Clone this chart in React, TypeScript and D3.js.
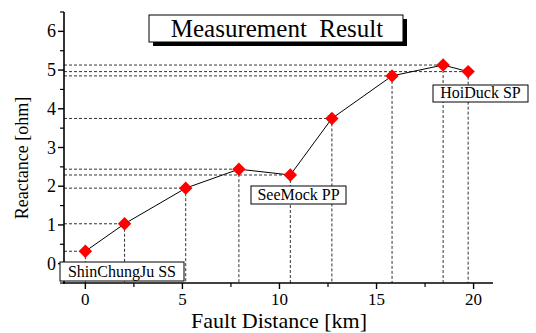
import React from "react";
import * as d3 from "d3";

const distance = [0, 2.02, 5.17, 7.91, 10.56, 12.7, 15.8, 18.43, 19.72];
const reactance = [0.32, 1.03, 1.95, 2.44, 2.29, 3.75, 4.85, 5.13, 4.96];
const xTicks = [0, 5, 10, 15, 20];
const yTicks = [0, 1, 2, 3, 4, 5, 6];
const xMinor = [2.5, 7.5, 12.5, 17.5];
const yMinor = [-0.5, 0.5, 1.5, 2.5, 3.5, 4.5, 5.5, 6.5];
const stations = ["ShinChungJu SS", "SeeMock PP", "HoiDuck SP"];

const font = "Liberation Serif, Times New Roman, Times, serif";

function App() {
  const width = 536;
  const height = 333;
  const x = d3.scaleLinear().domain([-1.1, 21]).range([64, 493]);
  const y = d3.scaleLinear().domain([-0.5, 6.5]).range([283, 12]);
  const points = distance.map((d, i) => [d, reactance[i]]);
  const line = d3
    .line()
    .x((d) => x(d[0]))
    .y((d) => y(d[1]));
  const diamond = d3.symbol(d3.symbolSquare, 90)();

  // annotation boxes [x, y, w, h]
  const boxes = [
    [60, 262, 124, 19],
    [251, 186, 95, 18],
    [433, 85, 95, 17],
  ];

  return (
    <svg
      width={width}
      height={height}
      style={{ position: "absolute", left: 0, top: 0, background: "#fff", fontFamily: font }}
    >
      {/* guide lines */}
      {points.map((p, i) => (
        <g key={i} stroke="#333" strokeWidth="1" strokeDasharray="3,2">
          <line x1={x(-1.1)} x2={x(p[0])} y1={y(p[1])} y2={y(p[1])} />
          <line x1={x(p[0])} x2={x(p[0])} y1={y(p[1])} y2={y(-0.5)} />
        </g>
      ))}

      <path d={line(points)} fill="none" stroke="#000" strokeWidth="1" />
      {points.map((p, i) => (
        <path
          key={i}
          d={diamond}
          transform={`translate(${x(p[0])},${y(p[1])}) rotate(45)`}
          fill="#ff0000"
        />
      ))}

      {/* axes */}
      <line x1={64} x2={64} y1={y(6.5)} y2={y(-0.5) + 1} stroke="#000" strokeWidth="1.6" />
      <line x1={63} x2={x(21)} y1={y(-0.5)} y2={y(-0.5)} stroke="#000" strokeWidth="1.6" />
      {yTicks.map((t) => (
        <g key={t}>
          <line x1={64} x2={58} y1={y(t)} y2={y(t)} stroke="#000" strokeWidth="1.4" />
          <text x={56} y={y(t) + 6} textAnchor="end" fontSize="18">
            {t}
          </text>
        </g>
      ))}
      {yMinor.map((t) => (
        <line key={t} x1={64} x2={60} y1={y(t)} y2={y(t)} stroke="#000" strokeWidth="1.2" />
      ))}
      {xTicks.map((t) => (
        <g key={t}>
          <line x1={x(t)} x2={x(t)} y1={283} y2={289} stroke="#000" strokeWidth="1.4" />
          <text x={x(t)} y={305} textAnchor="middle" fontSize="17">
            {t}
          </text>
        </g>
      ))}
      {xMinor.map((t) => (
        <line key={t} x1={x(t)} x2={x(t)} y1={283} y2={287} stroke="#000" strokeWidth="1.2" />
      ))}

      <text transform="translate(28,158) rotate(-90)" textAnchor="middle" fontSize="18">
        Reactance [ohm]
      </text>
      <text x={279} y={328} textAnchor="middle" fontSize="22">
        Fault Distance [km]
      </text>

      {/* title */}
      <rect x={153} y={19} width={254} height={27} fill="#000" />
      <rect x={149} y={15} width={254} height={27} fill="#fff" stroke="#000" strokeWidth="1" />
      <text x={277} y={37} textAnchor="middle" fontSize="25" style={{ whiteSpace: "pre" }}>
        {"Measurement  Result"}
      </text>

      {/* station labels */}
      {stations.map((s, i) => {
        const [bx, by, bw, bh] = boxes[i];
        return (
          <g key={s}>
            <rect x={bx} y={by} width={bw} height={bh} fill="#fff" stroke="#000" strokeWidth="1" />
            <text x={bx + bw / 2} y={by + bh - 4} textAnchor="middle" fontSize="16">
              {s}
            </text>
          </g>
        );
      })}
    </svg>
  );
}

export default App;
